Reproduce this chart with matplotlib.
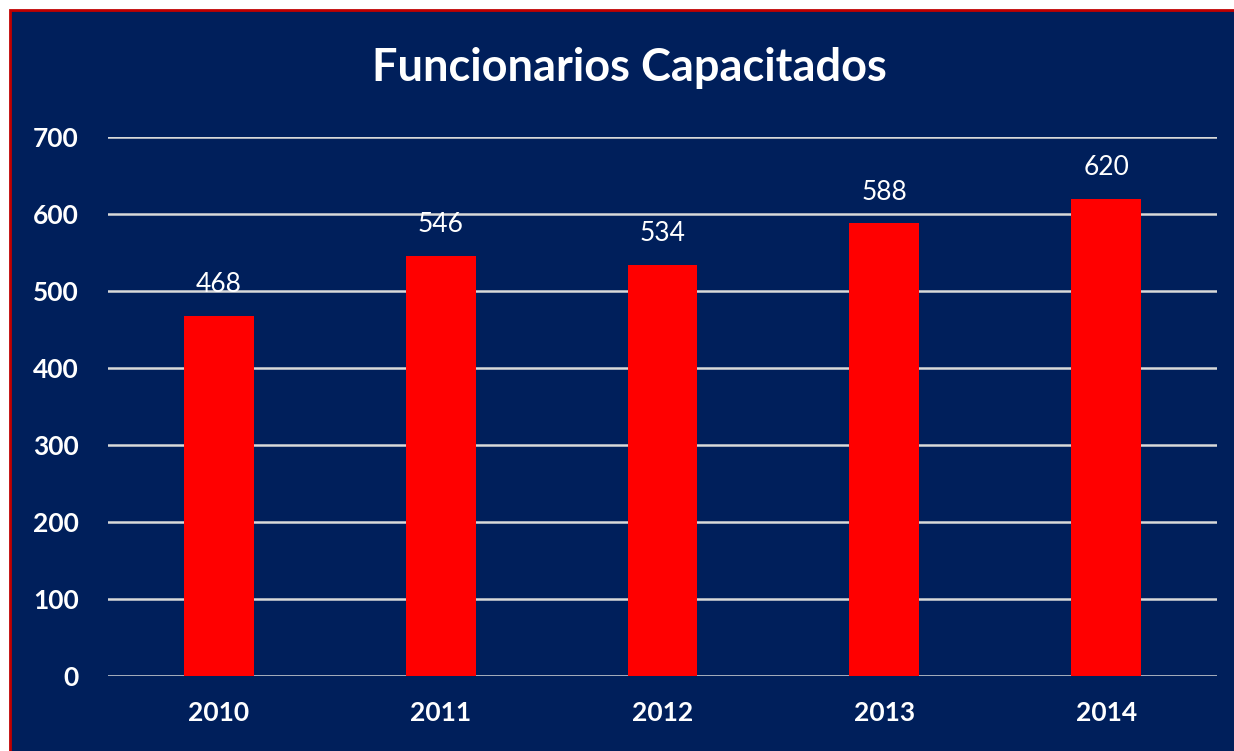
import matplotlib.pyplot as plt
from matplotlib.patches import Rectangle

years = ['2010', '2011', '2012', '2013', '2014']
funcionarios = [468, 546, 534, 588, 620]
yticks = [0, 100, 200, 300, 400, 500, 600, 700]

navy = '#001F5B'
plt.rcParams['font.family'] = ['Lato', 'DejaVu Sans']

fig = plt.figure(figsize=(12.34, 7.51), dpi=100, facecolor='white')
# dark panel with red edge on top/left, as in the source slide
fig.patches.append(Rectangle((10 / 1234, -0.05), 1.1, 1.05 - 10 / 751,
                             transform=fig.transFigure, facecolor=navy,
                             edgecolor='#C00000', linewidth=2, zorder=-10))

ax = fig.add_axes([108 / 1234, 1 - 676 / 751, (1217 - 108) / 1234, (676 - 137) / 751])
ax.patch.set_visible(False)

x = range(len(years))
ax.bar(x, funcionarios, width=0.315, color='#FF0000', zorder=3)
for xi, v in zip(x, funcionarios):
    ax.annotate(str(v), (xi, v), xytext=(0, 17), textcoords='offset points',
                ha='center', va='baseline', color='white', fontsize=19)

ax.set_xlim(-0.5, len(years) - 0.5)
ax.set_ylim(0, 700)
ax.set_yticks(yticks)
ax.set_xticks(list(x))
ax.set_xticklabels(years)
ax.yaxis.grid(True, color='#D9D9D9', linewidth=1.8, zorder=1)
ax.set_axisbelow(True)
for s in ax.spines.values():
    s.set_visible(False)
ax.tick_params(length=0, colors='white', labelsize=19)
ax.tick_params(axis='y', pad=21)
ax.tick_params(axis='x', pad=18)
for lab in ax.get_xticklabels() + ax.get_yticklabels():
    lab.set_fontweight('bold')

fig.text(629 / 1234, 1 - 68 / 751, 'Funcionarios Capacitados', ha='center', va='center',
         color='white', fontsize=32.5, fontweight='bold')

fig.savefig('out.png', dpi=100, facecolor='white')
